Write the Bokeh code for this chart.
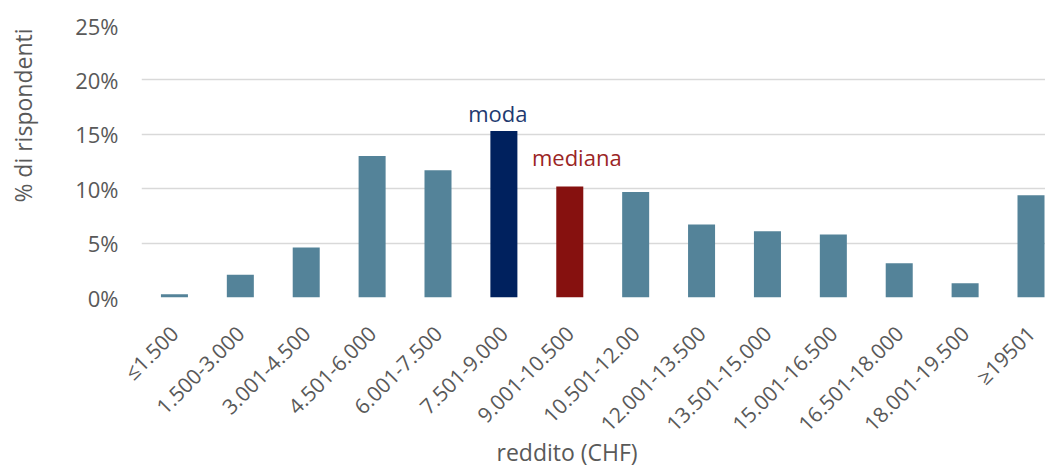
from bokeh.plotting import figure
from bokeh.models import Range1d, FixedTicker, PrintfTickFormatter, ColumnDataSource, Title
from bokeh.core.properties import value
from bokeh.embed import file_html
from bokeh.resources import INLINE
import math

categories = ["≤1.500", "1.500-3.000", "3.001-4.500", "4.501-6.000", "6.001-7.500",
              "7.501-9.000", "9.001-10.500", "10.501-12.00", "12.001-13.500",
              "13.501-15.000", "15.001-16.500", "16.501-18.000", "18.001-19.500", "≥19501"]
percent = [0.3, 2.1, 4.6, 13.0, 11.7, 15.3, 10.2, 9.7, 6.7, 6.1, 5.8, 3.15, 1.3, 9.4]
y_ticks = [0, 5, 10, 15, 20, 25]
moda_index = 5
mediana_index = 6
x_title = "reddito (CHF)"
y_title = "% di rispondenti"

FONT = "Open Sans"
GREY = "#595959"
BAR = "#548399"
MODA = "#00215E"
MEDIANA = "#86110F"

colors = [BAR] * len(categories)
colors[moda_index] = MODA
colors[mediana_index] = MEDIANA

xs = list(range(len(categories)))
src = ColumnDataSource(dict(x=xs, top=percent, color=colors))

p = figure(width=1045, height=468, output_backend="svg", toolbar_location=None,
           x_range=Range1d(-0.5, 13.22), y_range=Range1d(0, 25))
p.min_border_left = 134
p.min_border_right = 0
p.min_border_top = 25
p.min_border_bottom = 171
p.outline_line_color = None
p.background_fill_color = "white"
p.border_fill_color = "white"

p.vbar(x="x", top="top", width=0.41, bottom=0, color="color", line_color=None, source=src)

# annotations
p.text(x=[moda_index], y=[percent[moda_index]], text=["moda"], text_align="center",
       text_baseline="alphabetic", y_offset=-18, x_offset=-6,
       text_font=value(FONT), text_font_size="22px", text_color="#1F3A70")
p.text(x=[mediana_index], y=[percent[mediana_index]], text=["mediana"], text_align="center",
       text_baseline="alphabetic", y_offset=-30, x_offset=7,
       text_font=value(FONT), text_font_size="22px", text_color="#9B2525")

# grid
p.xgrid.grid_line_color = None
p.ygrid.grid_line_color = "#D9D9D9"
p.ygrid.grid_line_width = 1.5
p.ygrid.ticker = FixedTicker(ticks=y_ticks)

# y axis
ya = p.yaxis[0]
ya.ticker = FixedTicker(ticks=y_ticks)
ya.formatter = PrintfTickFormatter(format="%d%%")
ya.axis_line_color = None
ya.major_tick_line_color = None
ya.minor_tick_line_color = None
ya.major_label_standoff = 17
ya.major_label_text_font = FONT
ya.major_label_text_font_size = "22px"
ya.major_label_text_color = GREY

# x axis
xa = p.xaxis[0]
xa.ticker = FixedTicker(ticks=xs)
xa.major_label_overrides = {i: c for i, c in enumerate(categories)}
xa.major_label_orientation = math.pi / 4
xa.axis_line_color = None
xa.major_tick_line_color = None
xa.minor_tick_line_color = None
xa.major_label_standoff = 26
xa.major_label_text_font = FONT
xa.major_label_text_font_size = "21px"
xa.major_label_text_color = GREY

# spacer between y tick labels and y title
p.add_layout(Title(text=" ", standoff=27, text_font_size="1px"), "left")
# axis titles as side titles (offset from the frame ends)
p.add_layout(Title(text=y_title, align="right", offset=3, standoff=8,
                   text_font=FONT, text_font_size="23px", text_font_style="normal",
                   text_color=GREY), "left")
p.add_layout(Title(text=x_title, align="left", offset=355, standoff=-27,
                   vertical_align="top",
                   text_font=FONT, text_font_size="23px", text_font_style="normal",
                   text_color=GREY), "below")

open("out.html", "w").write(file_html(p, INLINE))
